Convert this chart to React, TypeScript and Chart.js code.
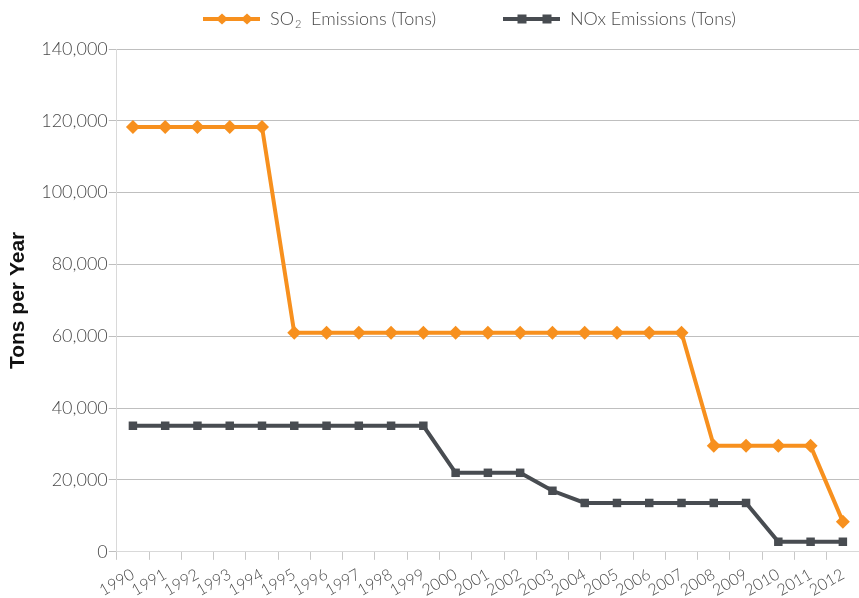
import React, { useEffect, useRef } from "react";
import { Chart, registerables } from "chart.js";

Chart.register(...registerables);

const years = ["1990","1991","1992","1993","1994","1995","1996","1997","1998","1999","2000","2001","2002","2003","2004","2005","2006","2007","2008","2009","2010","2011","2012"];
const so2Values = [118300,118300,118300,118300,118300,61000,61000,61000,61000,61000,61000,61000,61000,61000,61000,61000,61000,61000,29500,29500,29500,29500,8400];
const noxValues = [35100,35100,35100,35100,35100,35100,35100,35100,35100,35100,22000,22000,22000,17000,13600,13600,13600,13600,13600,13600,2800,2800,2800];
// legend text pieces: [main, subscript, rest]
const legendParts = [
  ["SO", "2", "  Emissions (Tons)"],
  ["NOx Emissions (Tons)", "", ""],
];
const seriesNames = ["SO\u2082 Emissions (Tons)", "NOx Emissions (Tons)"];
const yTitle = "Tons per Year";

const ORANGE = "#F7901E";
const GREY = "#484C51";
const TEXT = "#4a4a4a";
const FONT = "Lato";

const customLegend = {
  id: "customLegend",
  afterDraw(chart: any) {
    const ctx = chart.ctx as CanvasRenderingContext2D;
    const y = 19;
    const starts = [203, 503];
    chart.data.datasets.forEach((ds: any, i: number) => {
      const x0 = starts[i];
      const color = ds.borderColor;
      ctx.save();
      ctx.strokeStyle = color;
      ctx.fillStyle = color;
      ctx.lineWidth = 4;
      ctx.beginPath();
      ctx.moveTo(x0, y);
      ctx.lineTo(x0 + 57, y);
      ctx.stroke();
      for (const dx of [19, 44]) {
        const cx = x0 + dx;
        if (i === 0) {
          ctx.beginPath();
          ctx.moveTo(cx, y - 5.5);
          ctx.lineTo(cx + 6, y);
          ctx.lineTo(cx, y + 5.5);
          ctx.lineTo(cx - 6, y);
          ctx.closePath();
          ctx.fill();
        } else {
          ctx.fillRect(cx - 4.5, y - 4.5, 9, 9);
        }
      }
      ctx.fillStyle = TEXT;
      ctx.textBaseline = "middle";
      ctx.textAlign = "left";
      let tx = x0 + 57 + 10;
      const [main, sub, rest] = legendParts[i];
      ctx.font = `300 18px ${FONT}`;
      ctx.fillText(main, tx, y);
      tx += ctx.measureText(main).width;
      if (sub) {
        ctx.font = `300 11px ${FONT}`;
        ctx.fillText(sub, tx + 1, y + 5);
        tx += ctx.measureText(sub).width + 1;
      }
      if (rest) {
        ctx.font = `300 18px ${FONT}`;
        ctx.fillText(rest, tx, y);
      }
      ctx.restore();
    });
  },
};

export default function App() {
  const ref = useRef<HTMLCanvasElement>(null);
  useEffect(() => {
    if (!ref.current) return;
    const chart = new Chart(ref.current, {
      type: "line",
      data: {
        labels: years,
        datasets: [
          {
            label: seriesNames[0],
            data: so2Values,
            borderColor: ORANGE,
            backgroundColor: ORANGE,
            borderWidth: 4,
            pointStyle: "rectRot",
            pointRadius: 7,
            pointBackgroundColor: ORANGE,
            pointBorderColor: ORANGE,
            pointBorderWidth: 0,
            tension: 0,
            clip: false,
          },
          {
            label: seriesNames[1],
            data: noxValues,
            borderColor: GREY,
            backgroundColor: GREY,
            borderWidth: 4,
            pointStyle: "rect",
            pointRadius: 6,
            pointBackgroundColor: GREY,
            pointBorderColor: GREY,
            pointBorderWidth: 0,
            tension: 0,
            clip: false,
          },
        ],
      },
      plugins: [customLegend],
      options: {
        responsive: false,
        animation: false,
        layout: { autoPadding: false, padding: { left: 4, right: -9, top: 49, bottom: -7 } },
        plugins: {
          tooltip: { enabled: false },
          legend: { display: false },
        },
        scales: {
          x: {
            offset: true,
            afterFit: (scale: any) => {
              scale.paddingRight = -9;
            },
            grid: { display: true, drawOnChartArea: false, drawTicks: true, tickLength: 8, color: "#c8c8c8", offset: true },
            border: { color: "#d9d9d9", width: 1 },
            ticks: {
              color: TEXT,
              font: { family: FONT, size: 16, weight: 300 },
              minRotation: 30,
              maxRotation: 30,
              autoSkip: false,
              padding: 5,
            },
          },
          y: {
            min: 0,
            max: 140000,
            grid: { color: "#bfbfbf", tickLength: 8, drawTicks: true },
            border: { color: "#d9d9d9", width: 1 },
            ticks: {
              stepSize: 20000,
              color: TEXT,
              font: { family: FONT, size: 18, weight: 300 },
              padding: 1,
              callback: (v: any) => Number(v).toLocaleString("en-US"),
            },
            title: {
              display: true,
              text: yTitle,
              color: "#111111",
              font: { family: "Liberation Sans", size: 21, weight: "bold" },
              padding: { top: 2, bottom: 9 },
            },
          },
        },
      },
    });
    return () => chart.destroy();
  }, []);
  return (
    <div style={{ position: "fixed", left: 0, top: 0, width: 859, height: 598, background: "#fff" }}>
      <canvas ref={ref} width={859} height={598} style={{ display: "block" }} />
    </div>
  );
}
